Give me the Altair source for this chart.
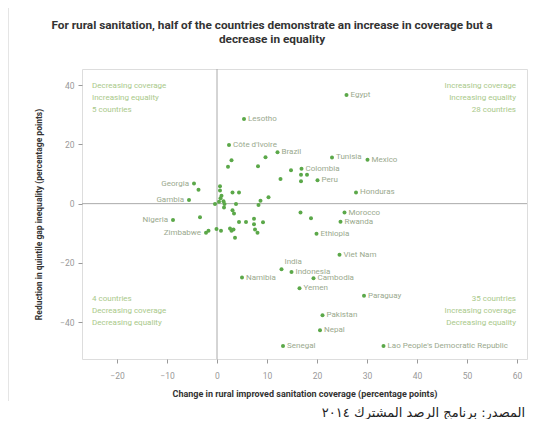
import altair as alt
import pandas as pd

# ---- data ----
names = [
    "Egypt", "Lesotho", "Côte d'Ivoire", "Brazil", "Tunisia", "Mexico", "Colombia", "Peru",
    "Honduras", "Georgia", "Gambia", "Nigeria", "Zimbabwe", "Namibia", "Morocco", "Rwanda",
    "Ethiopia", "Viet Nam", "India", "Indonesia", "Cambodia", "Yemen", "Paraguay", "Pakistan",
    "Nepal", "Senegal", "Lao People's Democratic Republic",
]
names_x = [
    25.9, 5.4, 2.4, 12.1, 23.0, 30.1, 16.9, 20.1,
    27.8, -4.6, -5.6, -8.8, -2.2, 5.0, 25.5, 24.7,
    19.9, 24.5, 12.9, 14.9, 19.3, 16.5, 29.4, 21.1,
    20.6, 13.2, 33.3,
]
names_y = [
    36.7, 28.6, 19.8, 17.4, 15.6, 14.8, 11.8, 7.9,
    3.8, 6.8, 1.2, -5.5, -9.8, -25.0, -3.0, -6.1,
    -10.2, -17.3, -22.2, -23.1, -25.2, -28.6, -31.1, -37.7,
    -42.8, -48.1, -48.1,
]
other_x = [
    2.9, 2.2, 8.2, 9.7, 14.8, 16.8, 18.0, 12.7, 16.8, 0.6, 0.6, 3.1, 4.4, 0.9, 0.7, 1.3,
    10.3, 8.7, 0.4, -3.7, -0.4, -3.4, -1.7, -0.1,
    1.4, 3.8, 8.3, 3.1, 3.4, 4.4, 5.8, 7.4, 7.4, 9.2, 7.6, 8.1, 0.8, 2.6, 2.9, 3.3,
    3.6, 16.7, 18.8, 1.5,
]
other_y = [
    14.7, 12.5, 12.6, 15.7, 11.3, 9.8, 9.8, 8.3, 7.6, 5.9, 4.4, 3.8, 3.8, 2.7, 1.8, 0.8,
    2.2, 1.0, 0.6, 4.7, -0.1, -4.6, -9.2, -8.6,
    -1.3, -0.1, -0.5, -2.2, -3.3, -6.2, -6.2, -5.1, -7.0, -6.3, -8.7, -9.8, -9.2, -8.4, -9.2, -8.7,
    -11.5, -3.0, -4.9, -0.1,
]
x_ticks = [-20, -10, 0, 10, 20, 30, 40, 50, 60]
y_ticks = [-40, -20, 0, 20, 40]

title_lines = [
    "For rural sanitation, half of the countries demonstrate an increase in coverage but a",
    "decrease in equality",
]
x_title = "Change in rural improved sanitation coverage (percentage points)"
y_title = "Reduction in quintile gap inequality (percentage points)"
q_ul = ["Decreasing coverage", "Increasing equality", "5 countries"]
q_ur = ["Increasing coverage", "Increasing equality", "28 countries"]
q_ll = ["4 countries", "Decreasing coverage", "Decreasing equality"]
q_lr = ["35 countries", "Increasing coverage", "Decreasing equality"]
source = "المصدر: برنامج الرصد المشترك ٢٠١٤"

left_labels = {"Georgia", "Gambia", "Nigeria", "Zimbabwe"}
top_labels = {"India"}

df = pd.DataFrame({
    "name": names + [""] * len(other_x),
    "x": names_x + other_x,
    "y": names_y + other_y,
})
df["side"] = ["l" if n in left_labels else ("t" if n in top_labels else "r") for n in df["name"]]

W, H = 445, 290
FONT = "Roboto"
PT = "#5ba849"
LAB = "#9aa98e"
ANN = "#a9c98a"

xs = alt.Scale(domain=[-27, 62], nice=False, zero=False)
ys = alt.Scale(domain=[-52.5, 45.5], nice=False, zero=False)

base = alt.Chart(df)

xenc = alt.X("x:Q", scale=xs, axis=alt.Axis(
    values=x_ticks, title=x_title, grid=False, domain=False, tickColor="#999",
    tickSize=4, labelColor="#999", labelFontSize=8.5, labelPadding=8,
    labelFont=FONT, titleFont=FONT, titleFontSize=9, titleFontWeight="bold",
    titleColor="#333", titlePadding=10))
yenc = alt.Y("y:Q", scale=ys, axis=alt.Axis(
    values=y_ticks, title=y_title, grid=False, domain=False, tickColor="#999",
    tickSize=4, labelColor="#999", labelFontSize=8.5, labelPadding=4,
    labelFont=FONT, titleFont=FONT, titleFontSize=8.5, titleFontWeight="bold",
    titleColor="#333", titlePadding=16))

zero = pd.DataFrame({"v": [0]})
vrule = alt.Chart(zero).mark_rule(color="#aaa", strokeWidth=1).encode(x=alt.X("v:Q", scale=xs))
hrule = alt.Chart(zero).mark_rule(color="#aaa", strokeWidth=1).encode(y=alt.Y("v:Q", scale=ys))

points = base.mark_circle(size=16, color=PT, opacity=1).encode(x=xenc, y=yenc)

lab_r = base.transform_filter("datum.side == 'r' && datum.name != ''").mark_text(
    align="left", baseline="middle", dx=4, fontSize=8, font=FONT, color=LAB
).encode(x=alt.X("x:Q", scale=xs), y=alt.Y("y:Q", scale=ys), text="name:N")
lab_l = base.transform_filter("datum.side == 'l'").mark_text(
    align="right", baseline="middle", dx=-5, fontSize=8, font=FONT, color=LAB
).encode(x=alt.X("x:Q", scale=xs), y=alt.Y("y:Q", scale=ys), text="name:N")
lab_t = base.transform_filter("datum.side == 't'").mark_text(
    align="left", baseline="middle", dx=3, dy=-7, fontSize=8, font=FONT, color=LAB
).encode(x=alt.X("x:Q", scale=xs), y=alt.Y("y:Q", scale=ys), text="name:N")


def ann(lines, xpx, ypx, align):
    return alt.Chart(zero).mark_text(
        align=align, baseline="middle", fontSize=8, font=FONT, color=ANN, lineHeight=12
    ).encode(x=alt.value(xpx), y=alt.value(ypx), text=alt.value(lines))


a1 = ann(q_ul, 10, 17, "left")
a2 = ann(q_ur, 434, 17, "right")
a3 = ann(q_ll, 10, 230, "left")
a4 = ann(q_lr, 434, 230, "right")

title = alt.Chart(zero).mark_text(
    align="center", baseline="middle", fontSize=11.8, fontWeight="bold", font=FONT,
    color="#333", lineHeight=14
).encode(x=alt.value(190), y=alt.value(-44), text=alt.value(title_lines))

src = alt.Chart(zero).mark_text(
    align="right", baseline="middle", fontSize=13, font="DejaVu Sans", color="#222"
).encode(x=alt.value(443), y=alt.value(344), text=alt.value(source))

frame_top = alt.Chart(zero).mark_rule(color="#ccc", strokeWidth=1).encode(
    x=alt.value(-74), x2=alt.value(460), y=alt.value(-64))
frame_left = alt.Chart(zero).mark_rule(color="#ccc", strokeWidth=1).encode(
    x=alt.value(-74), y=alt.value(-64), y2=alt.value(332))

chart = alt.layer(
    frame_top, frame_left, vrule, hrule, points, lab_r, lab_l, lab_t, a1, a2, a3, a4,
    title, src
).properties(
    width=W, height=H,
    autosize=alt.AutoSizeParams(type="none"),
    padding={"left": 74, "top": 61, "right": 15, "bottom": 60},
).configure_view(stroke="#bbb", strokeWidth=1).configure(background="white")

chart.save("out.html", embed_options={"renderer": "svg", "actions": False})
